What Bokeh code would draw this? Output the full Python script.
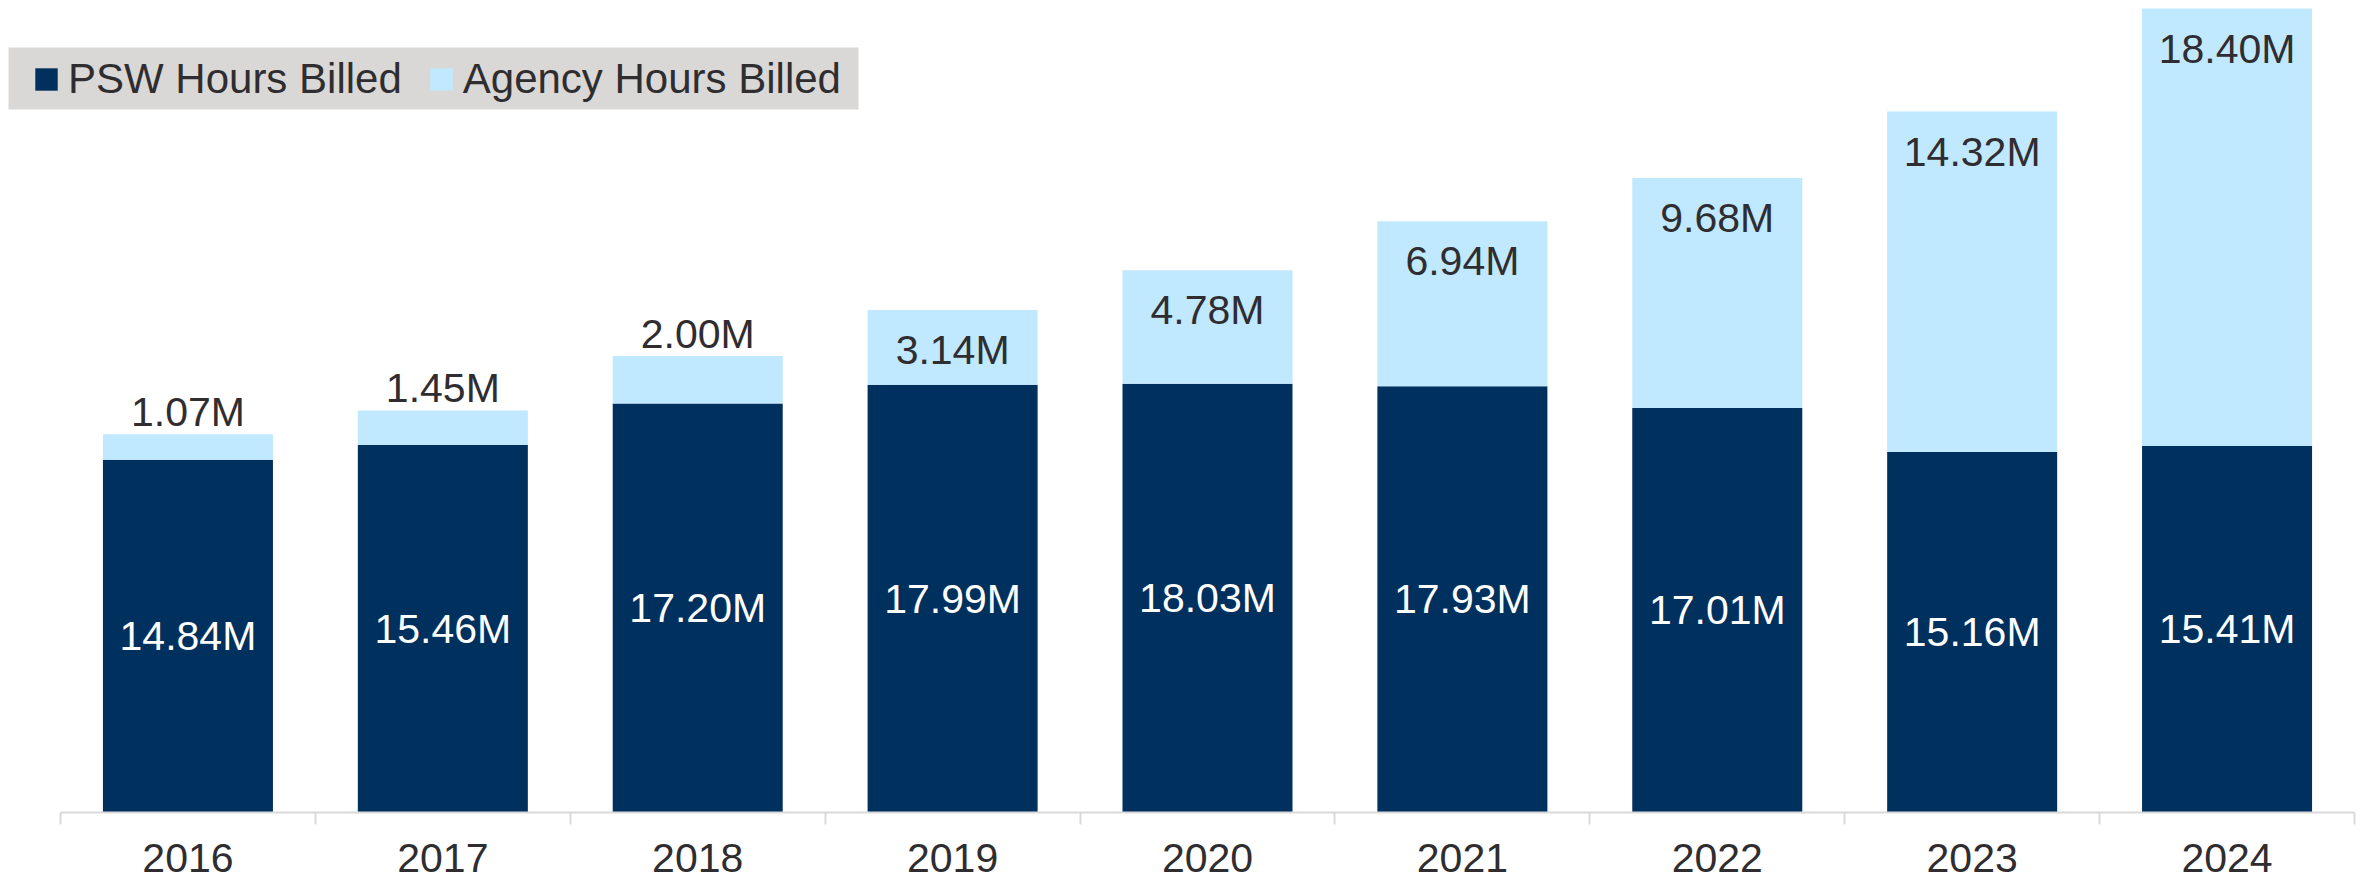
from bokeh.plotting import figure
from bokeh.models import (ColumnDataSource, Range1d, FixedTicker, LabelSet, Legend,
                          LegendItem, BoxAnnotation)
from bokeh.core.properties import value
from bokeh.embed import file_html
from bokeh.resources import INLINE

years = ["2016", "2017", "2018", "2019", "2020", "2021", "2022", "2023", "2024"]
psw_hours = [14.84, 15.46, 17.20, 17.99, 18.03, 17.93, 17.01, 15.16, 15.41]
agency_hours = [1.07, 1.45, 2.00, 3.14, 4.78, 6.94, 9.68, 14.32, 18.40]

NAVY = "#00305E"
LIGHT = "#C0E8FE"
TEXT = "#2F2D30"
AXIS = "#D9D9D9"
LEGEND_BG = "#D9D8D6"
FONT = "Liberation Sans"

idx = list(range(len(years)))
total = [a + b for a, b in zip(psw_hours, agency_hours)]

src = ColumnDataSource(dict(
    x=idx, psw=psw_hours, agency=agency_hours, total=total,
    psw_mid=[v / 2 for v in psw_hours],
    psw_lbl=[f"{v:.2f}M" for v in psw_hours],
))

small = [i for i in idx if agency_hours[i] < 2.5]
large = [i for i in idx if agency_hours[i] >= 2.5]
src_small = ColumnDataSource(dict(x=small, y=[total[i] for i in small],
                                  t=[f"{agency_hours[i]:.2f}M" for i in small]))
src_large = ColumnDataSource(dict(x=large, y=[total[i] for i in large],
                                  t=[f"{agency_hours[i]:.2f}M" for i in large]))

FRAME_BOTTOM = 812
left_pad = 60 / 254.9  # empty space left of the first category (in category units)
p = figure(width=2366, height=885,
           x_range=Range1d(-0.5 - left_pad, len(years) - 0.5), y_range=Range1d(0, 34.15),
           output_backend="svg", toolbar_location=None,
           min_border_left=0, min_border_right=12, min_border_top=0,
           min_border_bottom=885 - FRAME_BOTTOM)
p.outline_line_color = None
p.grid.visible = False
p.yaxis.visible = False
p.background_fill_color = "white"
p.border_fill_color = "white"

r1 = p.vbar(x="x", bottom=0, top="psw", width=0.667, fill_color=NAVY, line_color=None, source=src)
r2 = p.vbar(x="x", bottom="psw", top="total", width=0.667, fill_color=LIGHT, line_color=None, source=src)

common = dict(text_align="center", text_baseline="middle",
              text_font=value(FONT), text_font_size=value("41px"))
p.add_layout(LabelSet(x="x", y="psw_mid", text="psw_lbl", source=src,
                      text_color="white", **common))
p.add_layout(LabelSet(x="x", y="y", text="t", source=src_small, y_offset=22,
                      text_color=TEXT, **common))
p.add_layout(LabelSet(x="x", y="y", text="t", source=src_large, y_offset=-40,
                      text_color=TEXT, **common))

ax = p.xaxis[0]
ax.bounds = (-0.5, len(years) - 0.5)
ax.ticker = FixedTicker(ticks=idx, minor_ticks=[i - 0.5 for i in range(len(years) + 1)])
ax.major_label_overrides = {i: y for i, y in zip(idx, years)}
ax.major_tick_line_color = None
ax.major_tick_out = 0
ax.major_tick_in = 0
ax.minor_tick_line_color = AXIS
ax.minor_tick_line_width = 2
ax.minor_tick_out = 12
ax.minor_tick_in = 0
ax.axis_line_color = AXIS
ax.axis_line_width = 2
ax.major_label_text_font = FONT
ax.major_label_text_font_size = "41px"
ax.major_label_text_color = TEXT
ax.major_label_standoff = 19

# legend background box (screen units, measured from the frame's bottom-left)
p.add_layout(BoxAnnotation(left=8, right=858, bottom=FRAME_BOTTOM - 109, top=FRAME_BOTTOM - 47,
                           left_units="screen", right_units="screen",
                           bottom_units="screen", top_units="screen",
                           fill_color=LEGEND_BG, fill_alpha=1.0, line_color=None))

legend = Legend(items=[LegendItem(label="PSW Hours Billed", renderers=[r1]),
                       LegendItem(label="Agency Hours Billed", renderers=[r2])],
                orientation="horizontal", location=(32, FRAME_BOTTOM - 103),
                background_fill_alpha=0.0, border_line_color=None,
                label_text_font=FONT, label_text_font_size="42px",
                label_text_color=TEXT, glyph_width=28, glyph_height=28,
                label_standoff=8, spacing=25, padding=0, margin=0)
p.add_layout(legend)

open("out.html", "w").write(file_html(p, INLINE))
